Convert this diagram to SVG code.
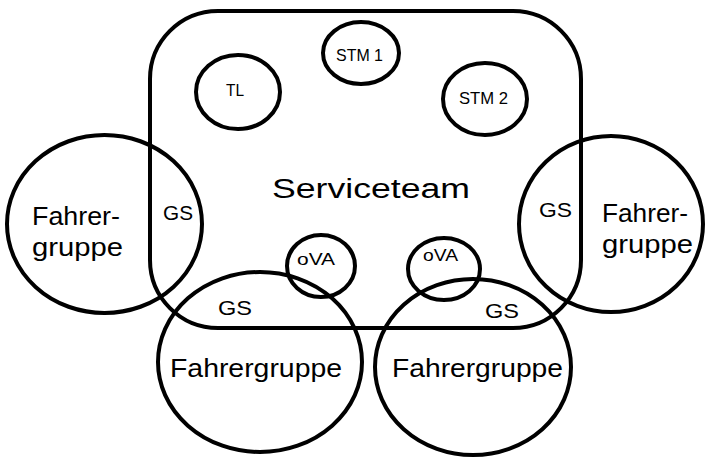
<svg xmlns="http://www.w3.org/2000/svg" width="705" height="458" viewBox="0 0 705 458">
<style>
.s{fill:none;stroke:#000;stroke-width:4}
.t{font-family:"Liberation Sans",Arial,sans-serif;fill:#000}
.big{font-size:25px}
.mid{font-size:21px}
.sm{font-size:16px}
</style>
<rect width="705" height="458" fill="#fff"/>
<g id="serviceteam">
<rect class="s" x="150" y="11" width="431" height="317" rx="68" ry="68"/>
<text class="t" x="272" y="198" font-size="27" textLength="198" lengthAdjust="spacingAndGlyphs">Serviceteam</text>
</g>
<g id="tl">
<ellipse class="s" cx="238" cy="92" rx="42" ry="37"/>
<text class="t sm" x="226" y="96" textLength="18" lengthAdjust="spacingAndGlyphs">TL</text>
</g>
<g id="stm1">
<ellipse class="s" cx="361" cy="53" rx="38" ry="31"/>
<text class="t" x="336" y="61" font-size="17" textLength="47" lengthAdjust="spacingAndGlyphs">STM 1</text>
</g>
<g id="stm2">
<ellipse class="s" cx="485" cy="99" rx="42" ry="36"/>
<text class="t" x="459" y="104" font-size="17" textLength="49" lengthAdjust="spacingAndGlyphs">STM 2</text>
</g>
<g id="fahrergruppe-left">
<ellipse class="s" cx="104.5" cy="224" rx="97.5" ry="89"/>
<text class="t big" x="32" y="225" textLength="88" lengthAdjust="spacingAndGlyphs">Fahrer-</text>
<text class="t big" x="32" y="256" textLength="91" lengthAdjust="spacingAndGlyphs">gruppe</text>
<text class="t mid" x="163" y="220" textLength="30" lengthAdjust="spacingAndGlyphs">GS</text>
</g>
<g id="fahrergruppe-right">
<ellipse class="s" cx="611" cy="224" rx="92" ry="88"/>
<text class="t big" x="602" y="222" textLength="86" lengthAdjust="spacingAndGlyphs">Fahrer-</text>
<text class="t big" x="602" y="253" textLength="91" lengthAdjust="spacingAndGlyphs">gruppe</text>
<text class="t mid" x="539" y="217" textLength="33" lengthAdjust="spacingAndGlyphs">GS</text>
</g>
<g id="fahrergruppe-bottom-left">
<ellipse class="s" cx="260" cy="362" rx="102" ry="90"/>
<text class="t big" x="170" y="377" textLength="172" lengthAdjust="spacingAndGlyphs">Fahrergruppe</text>
<text class="t mid" x="218" y="315" textLength="34" lengthAdjust="spacingAndGlyphs">GS</text>
</g>
<g id="fahrergruppe-bottom-right">
<ellipse class="s" cx="473" cy="367" rx="98" ry="88"/>
<text class="t big" x="392" y="377" textLength="171" lengthAdjust="spacingAndGlyphs">Fahrergruppe</text>
<text class="t mid" x="485" y="318" textLength="34" lengthAdjust="spacingAndGlyphs">GS</text>
</g>
<g id="ova-left">
<ellipse class="s" cx="321" cy="266" rx="34" ry="31"/>
<text class="t sm" x="297" y="265" textLength="38" lengthAdjust="spacingAndGlyphs">oVA</text>
</g>
<g id="ova-right">
<ellipse class="s" cx="444" cy="269" rx="36" ry="31"/>
<text class="t sm" x="423" y="261" textLength="35" lengthAdjust="spacingAndGlyphs">oVA</text>
</g>
<g id="connectors"/>
</svg>
